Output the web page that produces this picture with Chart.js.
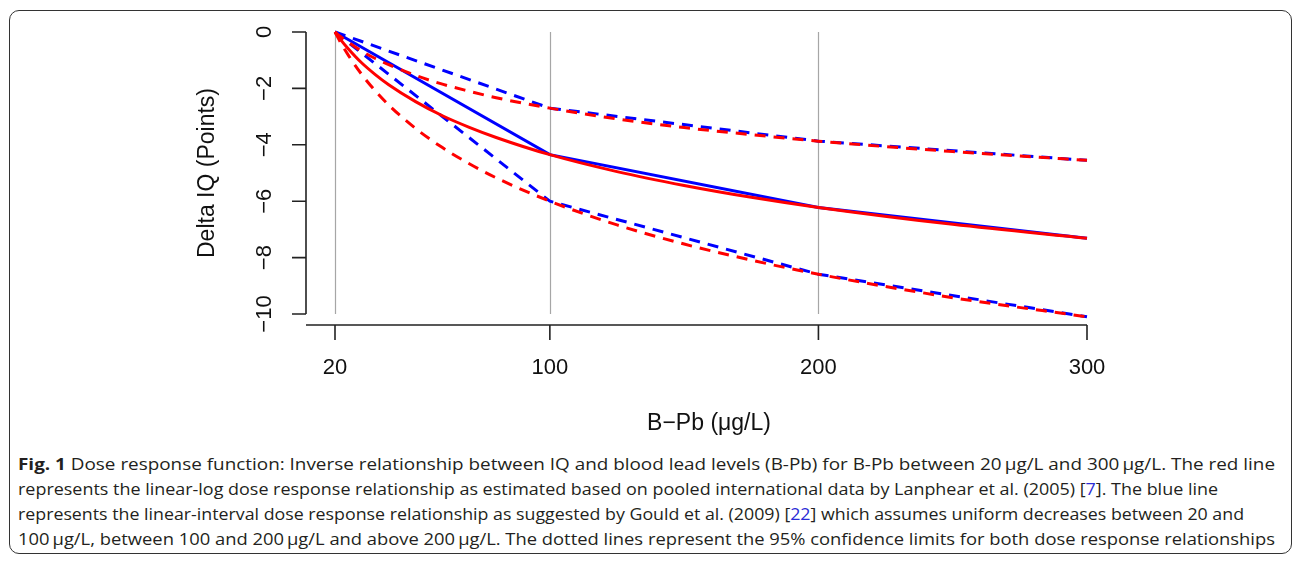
<!DOCTYPE html>
<html>
<head>
<meta charset="utf-8">
<script src="https://cdn.jsdelivr.net/npm/chart.js@4"></script>
<style>
  html, body { margin: 0; padding: 0; background: #fff; }
  body { width: 1296px; height: 567px; position: relative; overflow: hidden; }
  #frame {
    position: absolute; left: 9px; top: 10px; width: 1283px; height: 544px;
    border: 1.5px solid #333; border-radius: 10px; box-sizing: border-box;
  }
  #chart { position: absolute; left: 0; top: 0; }
  #caption {
    position: absolute; left: 18px; top: 451px;
    font-family: "Open Sans", "Noto Sans", sans-serif; font-size: 16.5px;
    color: #231f20; line-height: 25px;
  }
  #caption .ln { white-space: nowrap; transform-origin: 0 50%; width: max-content; }
  #caption a { color: #2b2bd6; text-decoration: none; }
</style>
</head>
<body>
<div id="frame"></div>
<canvas id="chart" width="1296" height="445"></canvas>
<div id="caption">
  <div class="ln" data-w="1257"><b>Fig. 1</b> Dose response function: Inverse relationship between IQ and blood lead levels (B-Pb) for B-Pb between 20&thinsp;μg/L and 300&thinsp;μg/L. The red line</div>
  <div class="ln" data-w="1200">represents the linear-log dose response relationship as estimated based on pooled international data by Lanphear et al. (2005) [<a>7</a>]. The blue line</div>
  <div class="ln" data-w="1226">represents the linear-interval dose response relationship as suggested by Gould et al. (2009) [<a>22</a>] which assumes uniform decreases between 20 and</div>
  <div class="ln" data-w="1257">100&thinsp;μg/L, between 100 and 200&thinsp;μg/L and above 200&thinsp;μg/L. The dotted lines represent the 95% confidence limits for both dose response relationships</div>
</div>
<script>
// values
var xTicks = [20, 100, 200, 300];
var yTicks = [0, -2, -4, -6, -8, -10];
var vLines = [20, 100, 200];

// linear-log (Lanphear), red
var redX    = [20, 22, 25, 30, 35, 40, 50, 60, 70, 80, 100, 125, 150, 175, 200, 250, 300];
var redMid  = [0, -0.26, -0.60, -1.10, -1.51, -1.87, -2.47, -2.97, -3.38, -3.74, -4.35, -4.95, -5.44, -5.86, -6.22, -6.82, -7.31];
var redHigh = [0, -0.16, -0.37, -0.68, -0.94, -1.16, -1.54, -1.85, -2.10, -2.33, -2.70, -3.08, -3.39, -3.64, -3.87, -4.24, -4.55];
var redLow  = [0, -0.36, -0.83, -1.51, -2.09, -2.59, -3.42, -4.10, -4.67, -5.17, -6.00, -6.84, -7.52, -8.09, -8.59, -9.42, -10.10];

// linear-interval (Gould), blue
var blueX    = [20, 100, 200, 300];
var blueMid  = [0, -4.35, -6.22, -7.31];
var blueHigh = [0, -2.70, -3.87, -4.55];
var blueLow  = [0, -6.00, -8.59, -10.10];

function pts(xs, ys) {
    return xs.map(function(x, i) { return {x: x, y: ys[i]}; });
}

function line(data, color, dashed, order, smooth) {
    return {
        data: data,
        borderColor: color,
        borderWidth: 3,
        borderDash: dashed ? [11, 8] : [],
        pointRadius: 0,
        fill: false,
        clip: false,
        order: order,
        cubicInterpolationMode: smooth ? 'monotone' : 'default',
        tension: 0
    };
}

var FONT = '"Liberation Sans", Arial, sans-serif';

// R-style axes drawn from the chart's own scales
var baseAxes = {
    id: 'baseAxes',
    beforeDatasetsDraw: function(chart) {
        var c = chart.ctx, xs = chart.scales.x, ys = chart.scales.y;
        c.save();
        // grey vertical reference lines
        c.strokeStyle = '#a6a6a6';
        c.lineWidth = 1.2;
        vLines.forEach(function(v) {
            var px = Math.round(xs.getPixelForValue(v)) + 0.5;
            c.beginPath();
            c.moveTo(px, ys.getPixelForValue(0));
            c.lineTo(px, ys.getPixelForValue(-10));
            c.stroke();
        });
        c.restore();
    },
    afterDraw: function(chart) {
        var c = chart.ctx, xs = chart.scales.x, ys = chart.scales.y;
        var axX = chart.chartArea.left - 29;
        var axY = chart.chartArea.bottom + 11;
        c.save();
        c.strokeStyle = '#222';
        c.fillStyle = '#111';
        c.lineWidth = 1.6;

        // y axis
        c.beginPath();
        c.moveTo(axX, ys.getPixelForValue(0));
        c.lineTo(axX, ys.getPixelForValue(-10));
        yTicks.forEach(function(v) {
            var py = ys.getPixelForValue(v);
            c.moveTo(axX, py);
            c.lineTo(axX - 14, py);
        });
        c.stroke();

        // x axis
        c.beginPath();
        c.moveTo(axX, axY);
        c.lineTo(xs.getPixelForValue(300), axY);
        xTicks.forEach(function(v) {
            var px = xs.getPixelForValue(v);
            c.moveTo(px, axY);
            c.lineTo(px, axY + 15);
        });
        c.stroke();

        c.font = '22px ' + FONT;
        c.textAlign = 'center';
        c.textBaseline = 'middle';
        xTicks.forEach(function(v) {
            c.fillText(String(v), xs.getPixelForValue(v), 368);
        });
        yTicks.forEach(function(v) {
            c.save();
            c.translate(265, ys.getPixelForValue(v));
            c.rotate(-Math.PI / 2);
            c.fillText(v < 0 ? '\u2212' + Math.abs(v) : String(v), 0, 0);
            c.restore();
        });

        // axis titles
        c.font = '23px ' + FONT;
        c.fillText('B\u2212Pb (\u03bcg/L)', (xs.getPixelForValue(20) + xs.getPixelForValue(300)) / 2 - 2, 424);
        c.save();
        c.translate(208, (ys.getPixelForValue(0) + ys.getPixelForValue(-10)) / 2);
        c.rotate(-Math.PI / 2);
        c.fillText('Delta IQ (Points)', 0, 0);
        c.restore();
        c.restore();
    }
};

var chart = new Chart(document.getElementById('chart'), {
    type: 'line',
    data: {
        datasets: [
            line(pts(redX, redMid), '#ff0000', false, 0, true),
            line(pts(redX, redHigh), '#ff0000', true, 1, true),
            line(pts(redX, redLow), '#ff0000', true, 2, true),
            line(pts(blueX, blueMid), '#0000ff', false, 3, false),
            line(pts(blueX, blueHigh), '#0000ff', true, 4, false),
            line(pts(blueX, blueLow), '#0000ff', true, 5, false)
        ]
    },
    options: {
        responsive: false,
        animation: false,
        layout: { padding: { left: 335, right: 209, top: 32, bottom: 131 } },
        scales: {
            x: { type: 'linear', min: 20, max: 300, display: false },
            y: { type: 'linear', min: -10, max: 0, display: false }
        },
        plugins: { legend: { display: false }, tooltip: { enabled: false } }
    },
    plugins: [baseAxes]
});

// squeeze caption lines to the reference's condensed typeface widths
document.querySelectorAll('#caption .ln').forEach(function(el) {
    var w = el.getBoundingClientRect().width;
    var target = parseFloat(el.getAttribute('data-w'));
    el.style.transform = 'scaleX(' + (target / w).toFixed(4) + ')';
});
</script>
</body>
</html>
